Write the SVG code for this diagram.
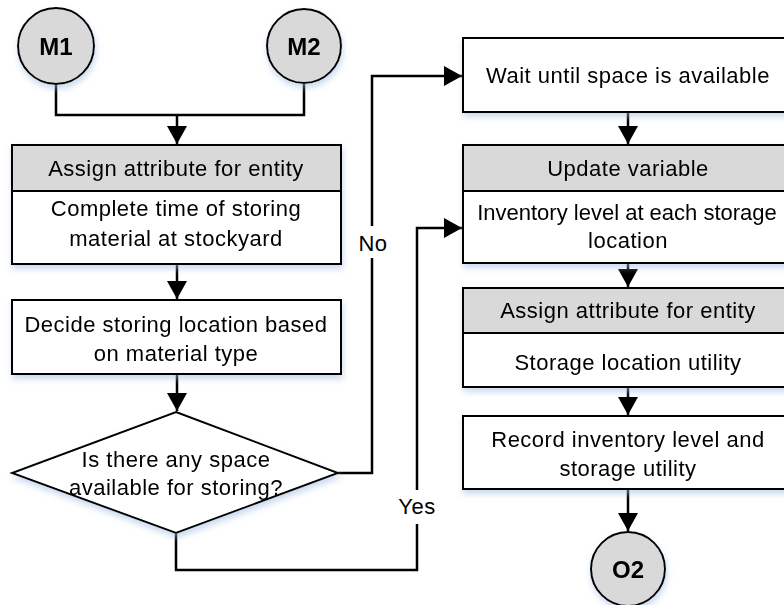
<svg xmlns="http://www.w3.org/2000/svg" width="784" height="605" viewBox="0 0 784 605">
  <style>
    .box { fill: #ffffff; stroke: #000000; stroke-width: 2; }
    .hdr { fill: #d9d9d9; stroke: #000000; stroke-width: 2; }
    .term { fill: #d9d9d9; stroke: #000000; stroke-width: 2; }
    .txt { font-family: "Liberation Sans", Arial, sans-serif; font-size: 22px; letter-spacing: 0.5px; fill: #000000; text-anchor: middle; }
    .tight { letter-spacing: 0; }
    .bold { font-weight: bold; font-size: 24px; letter-spacing: 0; }
    .wire { fill: none; stroke: #000000; stroke-width: 2.5; }
    .lbl-bg { fill: #ffffff; }
  </style>
  <defs>
    <marker id="arrow" markerUnits="userSpaceOnUse" markerWidth="18" markerHeight="20" refX="18" refY="10" orient="auto">
      <path d="M0,0 L18,10 L0,20 z" fill="#000000"/>
    </marker>
    <filter id="shadow" x="-10%" y="-10%" width="125%" height="140%">
      <feDropShadow dx="1" dy="4" stdDeviation="3" flood-color="#9fbbe0" flood-opacity="0.55"/>
    </filter>
  </defs>

  <!-- connectors -->
  <g id="connectors">
    <path class="wire" d="M56,84 V115 H304 V84"/>
    <path class="wire" d="M177,115 V144" marker-end="url(#arrow)"/>
    <path class="wire" d="M177,264 V299" marker-end="url(#arrow)"/>
    <path class="wire" d="M177,374 V411" marker-end="url(#arrow)"/>
    <path class="wire" d="M338,473 H372 V76 H462" marker-end="url(#arrow)"/>
    <path class="wire" d="M176,533 V570 H417 V228 H462" marker-end="url(#arrow)"/>
    <path class="wire" d="M628,112 V144" marker-end="url(#arrow)"/>
    <path class="wire" d="M628,263 V287" marker-end="url(#arrow)"/>
    <path class="wire" d="M628,387 V415" marker-end="url(#arrow)"/>
    <path class="wire" d="M628,489 V531" marker-end="url(#arrow)"/>
    <rect class="lbl-bg" x="359" y="226" width="27" height="32"/>
    <text class="txt" x="373" y="251">No</text>
    <rect class="lbl-bg" x="397" y="490" width="41" height="34"/>
    <text class="txt" x="417" y="514">Yes</text>
  </g>

  <!-- start connectors -->
  <g id="m1" filter="url(#shadow)">
    <circle class="term" cx="56" cy="46" r="38"/>
    <text class="txt bold" x="56" y="55">M1</text>
  </g>
  <g id="m2" filter="url(#shadow)">
    <circle class="term" cx="304" cy="46" r="37"/>
    <text class="txt bold" x="304" y="55">M2</text>
  </g>

  <!-- left column -->
  <g id="assign-time" filter="url(#shadow)">
    <rect class="hdr" x="12" y="145" width="329" height="46"/>
    <rect class="box" x="12" y="191" width="329" height="73"/>
    <text class="txt" x="176" y="176">Assign attribute for entity</text>
    <text class="txt" x="176" y="216">Complete time of storing</text>
    <text class="txt" x="176" y="246">material at stockyard</text>
  </g>
  <g id="decide-location" filter="url(#shadow)">
    <rect class="box" x="12" y="300" width="329" height="74"/>
    <text class="txt" x="176" y="332">Decide storing location based</text>
    <text class="txt" x="176" y="361">on material type</text>
  </g>
  <g id="space-check" filter="url(#shadow)">
    <polygon class="box" points="176,412 338,473 176,533 12,473"/>
    <text class="txt" x="176" y="467">Is there any space</text>
    <text class="txt" x="176" y="495">available for storing?</text>
  </g>

  <!-- right column -->
  <g id="wait-space" filter="url(#shadow)">
    <rect class="box" x="463" y="38" width="330" height="74"/>
    <text class="txt" x="628" y="83">Wait until space is available</text>
  </g>
  <g id="update-variable" filter="url(#shadow)">
    <rect class="hdr" x="463" y="145" width="330" height="46"/>
    <rect class="box" x="463" y="191" width="330" height="72"/>
    <text class="txt" x="628" y="176">Update variable</text>
    <text class="txt tight" x="627" y="220">Inventory level at each storage</text>
    <text class="txt" x="628" y="248">location</text>
  </g>
  <g id="assign-utility" filter="url(#shadow)">
    <rect class="hdr" x="463" y="288" width="330" height="45"/>
    <rect class="box" x="463" y="333" width="330" height="54"/>
    <text class="txt" x="628" y="318">Assign attribute for entity</text>
    <text class="txt" x="628" y="370">Storage location utility</text>
  </g>
  <g id="record-level" filter="url(#shadow)">
    <rect class="box" x="463" y="416" width="330" height="73"/>
    <text class="txt" x="628" y="447">Record inventory level and</text>
    <text class="txt" x="628" y="476">storage utility</text>
  </g>
  <g id="o2" filter="url(#shadow)">
    <circle class="term" cx="628" cy="569" r="37"/>
    <text class="txt bold" x="628" y="578">O2</text>
  </g>
</svg>
